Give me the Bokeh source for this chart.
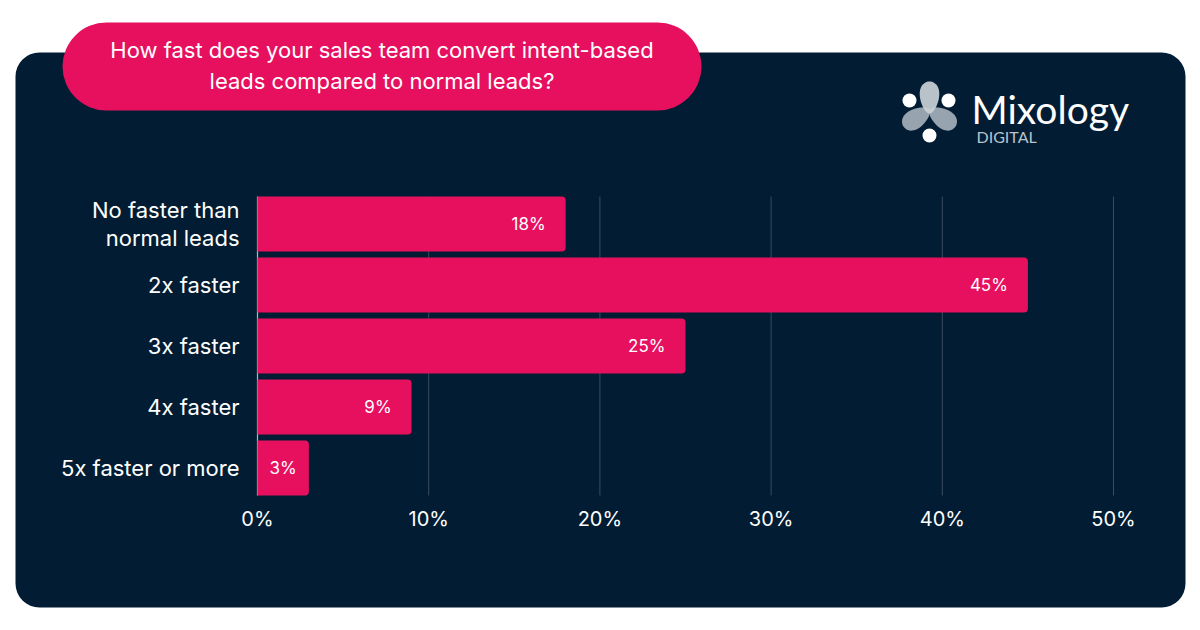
import numpy as np
from bokeh.plotting import figure
from bokeh.models import Range1d, ColumnDataSource
from bokeh.embed import file_html
from bokeh.resources import INLINE
from bokeh.core.properties import value

# ---- data ----
categories = ["No faster than\nnormal leads", "2x faster", "3x faster", "4x faster", "5x faster or more"]
values = [18, 45, 25, 9, 3]
value_labels = ["18%", "45%", "25%", "9%", "3%"]
tick_values = [0, 10, 20, 30, 40, 50]
tick_labels = ["0%", "10%", "20%", "30%", "40%", "50%"]
title_text = "How fast does your sales team convert intent-based\nleads compared to normal leads?"
brand_name = "Mixology"
brand_sub = "DIGITAL"

# ---- style ----
NAVY = "#021d33"
PINK = "#e6105f"
GRID = "#3b4c5d"
AXIS = "#b5b5b5"
FONT = "Inter"
W, H = 1200, 630

# layout: pixel-space default ranges for decorations (y downwards)
p = figure(width=W, height=H, output_backend="svg", toolbar_location=None,
           x_range=Range1d(0, W), y_range=Range1d(H, 0),
           x_axis_location=None, y_axis_location=None, min_border=0)
for g in p.grid:
    g.visible = False
p.outline_line_color = None
p.background_fill_color = "white"
p.border_fill_color = "white"

# chart scales: value axis (percent) and category rows
X0_PX, X50_PX = 257, 1113          # where 0% and 50% sit
ROW_PX, ROW0_PX = 61, 223.5         # row pitch and centre of the first row
ppu = (X50_PX - X0_PX) / 50
p.extra_x_ranges = {"pct": Range1d(-X0_PX / ppu, (W - X0_PX) / ppu)}
p.extra_y_ranges = {"row": Range1d((H - ROW0_PX) / ROW_PX, -ROW0_PX / ROW_PX)}
C = dict(x_range_name="pct", y_range_name="row")

# panel + title pill
p.quad(left=15, right=1185, top=52, bottom=607, fill_color=NAVY, line_color=None, border_radius=24)
p.quad(left=62, right=701, top=22, bottom=110, fill_color=PINK, line_color=None, border_radius=44)
p.text(x=[381.5], y=[65], text=[title_text], text_align="center", text_baseline="middle",
       text_color="white", text_font=value(FONT), text_font_size="22px", text_line_height=1.2)

# logo
def lobe(cx, cy, tx, ty, w, n=60):
    mx, my = (cx + tx) / 2, (cy + ty) / 2
    a = np.hypot(tx - cx, ty - cy) / 2
    ang = np.arctan2(ty - cy, tx - cx)
    t = np.linspace(0, 2 * np.pi, n, endpoint=False)
    ex, ey = a * np.cos(t), w * np.sin(t) * (1 + 0.25 * np.cos(t))
    return list(mx + ex * np.cos(ang) - ey * np.sin(ang)), list(my + ex * np.sin(ang) + ey * np.cos(ang))


cx, cy = 929, 109
lx1, ly1 = lobe(cx, cy, 903, 126, 9.5)
lx2, ly2 = lobe(cx, cy, 955, 126, 9.5)
lx3, ly3 = lobe(cx, cy + 4, 929, 81, 9.5)
p.patches(xs=[lx1, lx2], ys=[ly1, ly2], fill_color="#97a3ae", line_color=None)
p.patches(xs=[lx3], ys=[ly3], fill_color="#c9d0d6", fill_alpha=0.92, line_color=None)
p.scatter(x=[909, 948, 929], y=[100, 100, 135], size=14, marker="circle",
          fill_color="white", line_color=None)
p.text(x=[971], y=[108], text=[brand_name], text_align="left", text_baseline="alphabetic",
       text_color="white", text_font=value("Lato"), text_font_size="39px")
p.text(x=[976], y=[136], text=[brand_sub], text_align="left", text_baseline="alphabetic",
       text_color="#b9c3cc", text_font=value("Lato"), text_font_size="16px")

# chart
n = len(categories)
rows = list(range(n))
lx = [v / 2 if v < 5 else v for v in values]
align = ["center" if v < 5 else "right" for v in values]
off = [0 if v < 5 else -20 for v in values]
src = ColumnDataSource(dict(row=rows, cat=categories, val=values, lbl=value_labels,
                            lx=lx, align=align, off=off))

# vertical grid lines and value axis line
p.segment(x0=tick_values[1:], x1=tick_values[1:], y0=-0.45, y1=n - 1 + 0.45,
          line_color=GRID, line_width=1, **C)
p.segment(x0=[0], x1=[0], y0=-0.45, y1=n - 1 + 0.45, line_color=AXIS, line_width=1.2, **C)

p.hbar(y="row", left=0, right="val", height=0.9, source=src, fill_color=PINK, line_color=None,
       border_radius=(0, 4, 4, 0), **C)
p.text(x="lx", y="row", text="lbl", source=src, text_align="align", text_baseline="middle",
       x_offset="off", text_color="white", text_font=value(FONT), text_font_size="17px", **C)

# category labels
p.text(x=0, y="row", text="cat", source=src, x_offset=-18, text_align="right", text_baseline="middle",
       text_color="white", text_font=value(FONT), text_font_size="22px", text_line_height=1.1, **C)

# value tick labels
tick_y = (n - 1) + 50.5 / ROW_PX
p.text(x=tick_values, y=[tick_y] * len(tick_values), text=tick_labels, text_align="center",
       text_baseline="middle", text_color="white", text_font=value(FONT), text_font_size="20px", **C)

open("out.html", "w").write(file_html(p, INLINE))
